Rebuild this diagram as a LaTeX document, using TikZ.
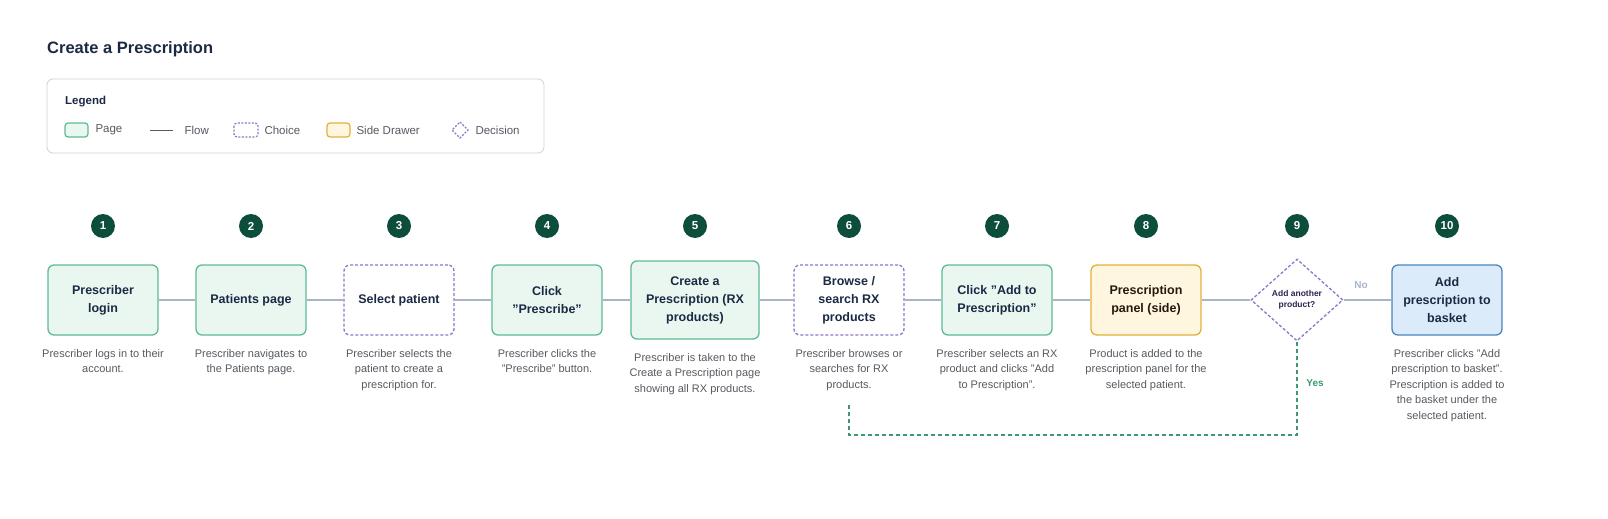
\documentclass[tikz,border=0pt]{standalone}
\usepackage{fontspec}
\setmainfont{Liberation Sans}
\usetikzlibrary{shapes.geometric}
\newcommand{\dq}{\char34\relax}
\definecolor{navy}{HTML}{1B2A44}
\definecolor{pgB}{HTML}{5DBB94}\definecolor{pgF}{HTML}{EAF6F0}
\definecolor{ch}{HTML}{8A78C8}
\definecolor{drB}{HTML}{E2B03A}\definecolor{drF}{HTML}{FFF6E0}
\definecolor{blB}{HTML}{4A86C0}\definecolor{blF}{HTML}{DCEBF9}
\definecolor{num}{HTML}{0D4D3C}
\definecolor{flow}{HTML}{A9B4C6}
\definecolor{desc}{HTML}{555A60}
\definecolor{yes}{HTML}{3A9A6E}
\begin{document}
\begin{tikzpicture}[x=1pt,y=-1pt,
 box/.style={rounded corners=6pt,line width=1.3pt,minimum width=110pt,minimum height=70pt,align=center,font=\fontsize{12.5}{18}\selectfont\bfseries,text=navy},
 page/.style={box,draw=pgB,fill=pgF},
 choice/.style={box,draw=ch,fill=white,dashed,dash pattern=on 3pt off 2pt},
 drawer/.style={box,draw=drB,fill=drF,text=black!80!brown},
 final/.style={box,draw=blB,fill=blF},
 numc/.style={circle,fill=num,text=white,minimum size=24pt,inner sep=0pt,font=\fontsize{11.5}{11}\selectfont\bfseries},
 dsc/.style={align=center,font=\fontsize{11}{15.4}\selectfont,text=desc,anchor=north},
 flowl/.style={draw=flow,line width=1.2pt},
 leg/.style={font=\fontsize{11.5}{11}\selectfont,text=desc,anchor=west}]
\useasboundingbox (0,0) rectangle (1608,519);
\node[anchor=west,font=\fontsize{16.5}{16}\selectfont\bfseries,text=navy,inner sep=0pt] (title) at (47,49) {Create a Prescription};
\draw[draw=flow!60,rounded corners=6pt,line width=0.8pt] (47,79) rectangle (544,153);
\node[anchor=west,font=\fontsize{11.5}{11}\selectfont\bfseries,text=navy,inner sep=0pt] (lg) at (65,102) {Legend};
\draw[rounded corners=3pt,draw=pgB,fill=pgF,line width=1.2pt] (65,123) rectangle (88,137);
\node[leg] (l1) at (92,130) {Page};
\draw[draw=desc,line width=0.9pt] (150,130) -- (173,130);
\node[leg] (l2) at (181,130) {Flow};
\draw[rounded corners=3pt,draw=ch,dashed,dash pattern=on 2pt off 1.5pt,line width=1.2pt] (234,123) rectangle (258,137);
\node[leg] (l3) at (261,130) {Choice};
\draw[rounded corners=3pt,draw=drB,fill=drF,line width=1.2pt] (327,123) rectangle (350,137);
\node[leg] (l4) at (353,130) {Side Drawer};
\draw[draw=ch,dashed,dash pattern=on 2pt off 1.5pt,line width=1.2pt] (460,122) -- (468,130) -- (460,138) -- (452,130) -- cycle;
\node[leg] (l5) at (472,130) {Decision};
% nodes
\node[page] (b1) at (103,300) {Prescriber\\login};
\node[page] (b2) at (251,300) {Patients page};
\node[choice] (b3) at (399,300) {Select patient};
\node[page] (b4) at (547,300) {Click\\\dq Prescribe\dq};
\node[page,minimum width=128pt,minimum height=78pt] (b5) at (695,300) {Create a\\Prescription (RX\\products)};
\node[choice] (b6) at (849,300) {Browse /\\search RX\\products};
\node[page] (b7) at (997,300) {Click \dq Add to\\Prescription\dq};
\node[drawer] (b8) at (1146,300) {Prescription\\panel (side)};
\node[diamond,draw=ch,dashed,dash pattern=on 3pt off 2pt,line width=1.3pt,minimum width=92pt,minimum height=82pt,inner sep=0pt,align=center,font=\fontsize{8.5}{11}\selectfont\bfseries,text=navy!80!violet] (b9) at (1297,300) {Add another\\product?};
\node[final] (b10) at (1447,300) {Add\\prescription to\\basket};
\foreach \i/\x in {1/103,2/251,3/399,4/547,5/695,6/849,7/997,8/1146,9/1297,10/1447}
  \node[numc] (n\i) at (\x,226) {\i};
\foreach \a/\b in {b1/b2,b2/b3,b3/b4,b4/b5,b5/b6,b6/b7,b7/b8,b8/b9,b9/b10}
  \draw[flowl] (\a) -- (\b);
\node[font=\fontsize{10}{10}\selectfont\bfseries,text=flow] (no) at (1361,285) {No};
\coordinate (c1) at (849,403);
\coordinate (c2) at (849,435);
\coordinate (c3) at (1297,435);
\draw[draw=yes,line width=1.2pt,dashed,dash pattern=on 4pt off 3pt] (b9.south) -- (c3) -- (c2) -- (c1);
\node[font=\fontsize{10}{10}\selectfont\bfseries,text=yes] (yes) at (1315,383) {Yes};
% descriptions
\node[dsc] (d1) at (103,346) {Prescriber logs in to their\\account.};
\node[dsc] (d2) at (251,346) {Prescriber navigates to\\the Patients page.};
\node[dsc] (d3) at (399,346) {Prescriber selects the\\patient to create a\\prescription for.};
\node[dsc] (d4) at (547,346) {Prescriber clicks the\\\dq Prescribe\dq{} button.};
\node[dsc] (d5) at (695,350) {Prescriber is taken to the\\Create a Prescription page\\showing all RX products.};
\node[dsc] (d6) at (849,346) {Prescriber browses or\\searches for RX\\products.};
\node[dsc] (d7) at (997,346) {Prescriber selects an RX\\product and clicks \dq Add\\to Prescription\dq.};
\node[dsc] (d8) at (1146,346) {Product is added to the\\prescription panel for the\\selected patient.};
\node[dsc] (d10) at (1447,346) {Prescriber clicks \dq Add\\prescription to basket\dq.\\Prescription is added to\\the basket under the\\selected patient.};
\end{tikzpicture}
\end{document}
